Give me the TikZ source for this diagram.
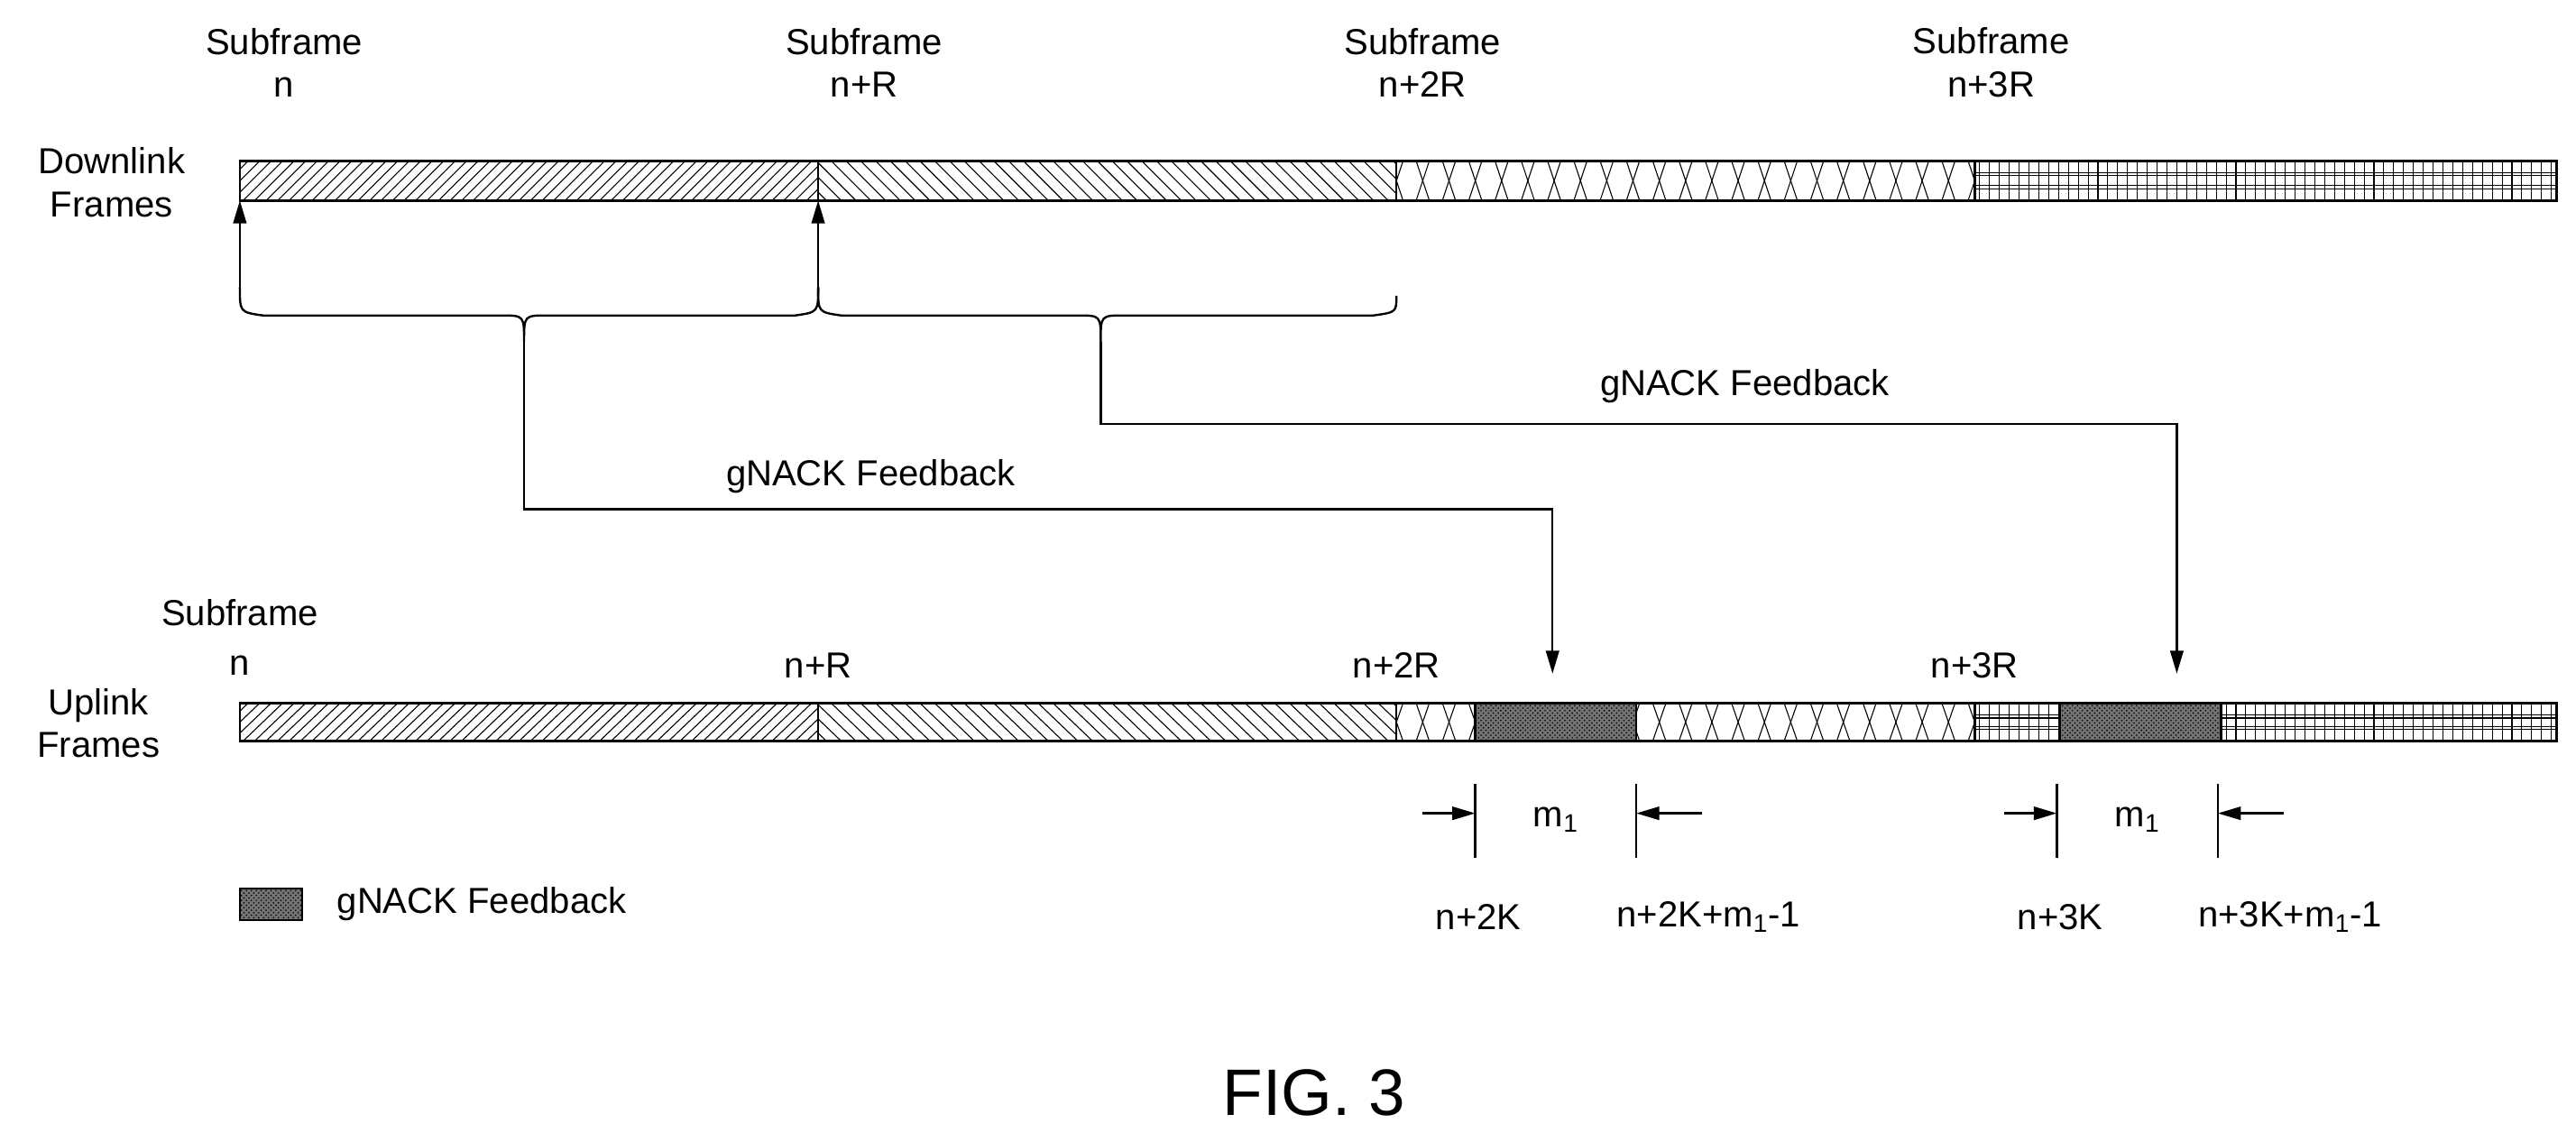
\documentclass[tikz,border=0pt]{standalone}
\usepackage{fontspec}
\setmainfont{Liberation Sans}
\usetikzlibrary{patterns,arrows.meta}
\begin{document}
\begin{tikzpicture}[x=1pt,y=-1pt,
  lbl/.style={font=\fontsize{22}{26}\selectfont,align=center,inner sep=0},
  bar/.style={draw,line width=1.5pt},
  arr/.style={-{Triangle[length=14pt,width=8pt]},line width=1.3pt},
  ln/.style={line width=1.3pt},
  hl/.style={line width=0.6pt},
  gn/.style={fill=black!55,pattern=crosshatch dots,pattern color=black}]
\useasboundingbox (0,0) rectangle (1568,695);
% hatch helper: \segs{y1}{y2}
\foreach \ya/\yb in {98/122,428/451}{
  \begin{scope}
  \clip (146,\ya) rectangle (498,\yb);
  \foreach \x in {120,127,...,520} \draw[hl] (\x,\yb)--(\x+24,\ya);
  \end{scope}
  \begin{scope}
  \clip (498,\ya) rectangle (850,\yb);
  \foreach \x in {470,479,...,860} \draw[hl] (\x,\ya)--(\x+24,\yb);
  \end{scope}
  \begin{scope}
  \clip (850,\ya) rectangle (1202,\yb);
  \foreach \x in {830,846,...,1210} {\draw[hl] (\x,\ya)--(\x+8,\yb); \draw[hl] (\x,\yb)--(\x+8,\ya);}
  \end{scope}
  \begin{scope}
  \clip (1202,\ya) rectangle (1556,\yb);
  \foreach \x in {1205,1211,...,1556} \draw[hl] (\x,\ya)--(\x,\yb);
  \draw[hl] (1202,\ya+7)--(1556,\ya+7) (1202,\ya+9)--(1556,\ya+9)
           (1202,\yb-9)--(1556,\yb-9) (1202,\yb-7)--(1556,\yb-7);
  \end{scope}
}
\fill[white] (898,428) rectangle (996,451) (1254,428) rectangle (1352,451);
\fill[black!55] (898,428) rectangle (996,451) (1254,428) rectangle (1352,451);
\fill[pattern=crosshatch dots] (898,428) rectangle (996,451) (1254,428) rectangle (1352,451);
\draw[bar] (146,98) rectangle (1556,122);
\foreach \x in {498,850,1202} \draw[ln] (\x,98)--(\x,122);
\draw[bar] (146,428) rectangle (1556,451);
\foreach \x in {498,850,898,996,1202,1254,1352} \draw[ln] (\x,428)--(\x,451);
% labels
\node[lbl] (s1) at (173,38) {Subframe\\n};
\node[lbl] (s2) at (526,38) {Subframe\\n+R};
\node[lbl] (s3) at (866,38) {Subframe\\n+2R};
\node[lbl] (s4) at (1212,38) {Subframe\\n+3R};
\node[lbl] (dl) at (68,111) {Downlink\\Frames};
\node[lbl] (ul) at (60,440) {Uplink\\Frames};
\node[lbl] (us) at (146,373) {Subframe};
\node[lbl] (u1) at (146,405) {n};
\node[lbl] (u2) at (498,405) {n+R};
\node[lbl] (u3) at (850,405) {n+2R};
\node[lbl] (u4) at (1202,405) {n+3R};
% braces and arrows
\coordinate (a1) at (146,122); \coordinate (a2) at (498,122);
\draw[arr] (146,175) -- (a1);
\draw[arr] (498,175) -- (a2);
\draw[ln] (146,175) .. controls (146,190) .. (160,192) -- (305,192) .. controls (319,192) .. (319,208)
  .. controls (319,192) .. (333,192) -- (484,192) .. controls (498,190) .. (498,175);
\draw[ln] (498,175) .. controls (498,190) .. (512,192) -- (656,192) .. controls (670,192) .. (670,208)
  .. controls (670,192) .. (684,192) -- (836,192) .. controls (850,190) .. (850,180);
\coordinate (t1) at (945,410); \coordinate (t2) at (1325,410);
\draw[arr] (319,208) -- (319,310) -- (945,310) -- (t1);
\draw[arr] (670,208) -- (670,258) -- (1325,258) -- (t2);
\node[lbl] (g1) at (530,290) {gNACK Feedback};
\node[lbl] (g2) at (1062,235) {gNACK Feedback};
% dimensions
\foreach \o/\k in {0/2,354/3}{
  \begin{scope}[xshift=\o]
  \draw[ln] (898,477)--(898,522) (996,477)--(996,522);
  \draw[arr] (866,495)--(898,495);
  \draw[arr] (1036,495)--(996,495);
  \node[lbl] at (947,499) {m\textsubscript{1}};
  \node[lbl] at (900,558) {n+\k K};
  \node[lbl] at (1040,558) {n+\k K+m\textsubscript{1}-1};
  \end{scope}}
% legend
\fill[black!55] (146,541) rectangle (184,560);
\fill[pattern=crosshatch dots] (146,541) rectangle (184,560);
\draw[line width=1pt] (146,541) rectangle (184,560);
\node[lbl,anchor=west] (lg) at (205,550) {gNACK Feedback};
\node[font=\fontsize{40}{44}\selectfont] (fig) at (800,665) {FIG. 3};
\end{tikzpicture}
\end{document}
